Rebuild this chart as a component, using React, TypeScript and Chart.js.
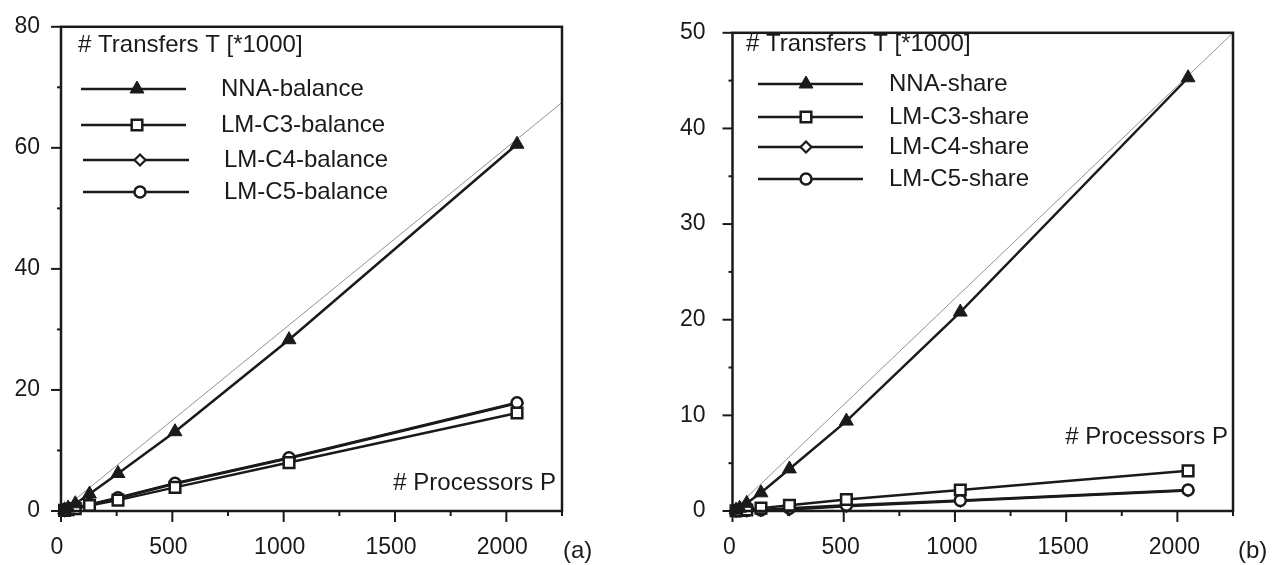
import React, { useEffect, useRef } from 'react';
import { Chart, registerables } from 'chart.js';

Chart.register(...registerables);

// ---------- data ----------
const processors = [16, 32, 64, 128, 256, 512, 1024, 2048];

const nnaBalance = [0.2, 0.5, 1.2, 2.8, 6.2, 13.1, 28.3, 60.6];
const c3Balance = [0.1, 0.2, 0.4, 0.9, 1.8, 3.9, 8.0, 16.2];
const c4Balance = [0.1, 0.2, 0.5, 1.0, 2.1, 4.5, 8.7, 17.8];
const c5Balance = [0.1, 0.2, 0.5, 1.1, 2.2, 4.6, 8.8, 17.9];

const nnaShare = [0.1, 0.3, 0.8, 1.9, 4.4, 9.4, 20.8, 45.3];
const c3Share = [0.02, 0.05, 0.1, 0.3, 0.6, 1.2, 2.2, 4.2];
const c4Share = [0.01, 0.02, 0.04, 0.08, 0.15, 0.5, 1.05, 2.15];
const c5Share = [0.01, 0.02, 0.05, 0.1, 0.3, 0.6, 1.1, 2.2];

const idealX = [0, 2250];
const idealBalance = [0, 67.5];
const idealShare = [0, 50];

const balanceNames = ['NNA-balance', 'LM-C3-balance', 'LM-C4-balance', 'LM-C5-balance'];
const shareNames = ['NNA-share', 'LM-C3-share', 'LM-C4-share', 'LM-C5-share'];

const xTickLabels = [0, 500, 1000, 1500, 2000];
const balanceYTickLabels = [0, 20, 40, 60, 80];
const shareYTickLabels = [0, 10, 20, 30, 40, 50];

const yTitle = '# Transfers T [*1000]';
const xTitle = '# Processors P';

// ---------- styling ----------
const H = 565;
const INK = '#1a1a1a';
const FONT = '"Liberation Sans", Arial, Helvetica, sans-serif';
const markerStyles = ['triangle', 'rect', 'rectRot', 'circle'];
const markerRadius = [8, 7.5, 5.5, 5.5];
const markerFill = [INK, '#fff', '#fff', '#fff'];
const markerBorder = [1, 2.5, 2.2, 2.5];
const drawOrder = [0, 1, 3, 2];

type Row = { y: number; x1: number; x2: number; mx: number; tx: number };
type Spec = {
  left: number;
  width: number;
  area: { left: number; top: number; right: number; bottom: number };
  yMax: number;
  yStep: number;
  yLabels: number[];
  yPad: number;
  xLabelOffset: number;
  series: number[][];
  names: string[];
  ideal: number[];
  titlePos: { x: number; y: number };
  rows: Row[];
  procPos: { x: number; y: number };
  tag: string;
  tagPos: { x: number; y: number };
};

const leftSpec: Spec = {
  left: 0,
  width: 640,
  area: { left: 61, top: 22, right: 562, bottom: 511 },
  yMax: 80,
  yStep: 10,
  yLabels: balanceYTickLabels,
  yPad: 13,
  xLabelOffset: -4,
  series: [nnaBalance, c3Balance, c4Balance, c5Balance],
  names: balanceNames,
  ideal: idealBalance,
  titlePos: { x: 78, y: 45 },
  rows: [
    { y: 89, x1: 81, x2: 186, mx: 137, tx: 221 },
    { y: 125, x1: 81, x2: 186, mx: 137, tx: 221 },
    { y: 160, x1: 83, x2: 189, mx: 140, tx: 224 },
    { y: 192, x1: 83, x2: 189, mx: 140, tx: 224 },
  ],
  procPos: { x: 556, y: 483 },
  tag: '(a)',
  tagPos: { x: 563, y: 551 },
};

const rightSpec: Spec = {
  left: 640,
  width: 635,
  area: { left: 92.5, top: 18, right: 593, bottom: 511 },
  yMax: 50,
  yStep: 5,
  yLabels: shareYTickLabels,
  yPad: 19,
  xLabelOffset: -3,
  series: [nnaShare, c3Share, c4Share, c5Share],
  names: shareNames,
  ideal: idealShare,
  titlePos: { x: 106, y: 44 },
  rows: [
    { y: 84, x1: 118, x2: 223, mx: 166, tx: 249 },
    { y: 117, x1: 118, x2: 223, mx: 166, tx: 249 },
    { y: 147, x1: 118, x2: 223, mx: 166, tx: 249 },
    { y: 179, x1: 118, x2: 223, mx: 166, tx: 249 },
  ],
  procPos: { x: 588, y: 437 },
  tag: '(b)',
  tagPos: { x: 598, y: 551 },
};

function drawMarker(ctx: CanvasRenderingContext2D, idx: number, x: number, y: number) {
  const r = markerRadius[idx];
  ctx.save();
  ctx.fillStyle = markerFill[idx];
  ctx.strokeStyle = INK;
  ctx.lineWidth = markerBorder[idx];
  ctx.beginPath();
  const s = markerStyles[idx];
  if (s === 'triangle') {
    for (let k = 0; k < 3; k++) {
      const a = (k * 2 * Math.PI) / 3;
      const px = x + Math.sin(a) * r;
      const py = y - Math.cos(a) * r;
      if (k === 0) ctx.moveTo(px, py);
      else ctx.lineTo(px, py);
    }
    ctx.closePath();
  } else if (s === 'rect') {
    const h = r * Math.SQRT1_2;
    ctx.rect(x - h, y - h, 2 * h, 2 * h);
  } else if (s === 'rectRot') {
    ctx.moveTo(x - r, y);
    ctx.lineTo(x, y - r);
    ctx.lineTo(x + r, y);
    ctx.lineTo(x, y + r);
    ctx.closePath();
  } else {
    ctx.arc(x, y, r, 0, Math.PI * 2);
  }
  ctx.fill();
  ctx.stroke();
  ctx.restore();
}

const decorPlugin = {
  id: 'decor',
  afterDraw(chart: any, _args: any, opts: any) {
    const spec: Spec = opts.spec;
    const { ctx, chartArea: a, scales } = chart;
    ctx.save();
    // frame
    ctx.strokeStyle = INK;
    ctx.lineWidth = 2.5;
    ctx.strokeRect(a.left, a.top, a.right - a.left, a.bottom - a.top);
    // x ticks
    ctx.lineWidth = 2;
    scales.x.ticks.forEach((t: any) => {
      const px = scales.x.getPixelForValue(t.value);
      const len = xTickLabels.includes(t.value) ? 11 : 5;
      ctx.beginPath();
      ctx.moveTo(px, a.bottom);
      ctx.lineTo(px, a.bottom + len);
      ctx.stroke();
    });
    // y ticks
    scales.y.ticks.forEach((t: any) => {
      const py = scales.y.getPixelForValue(t.value);
      const len = spec.yLabels.includes(t.value) ? 10 : 4;
      ctx.beginPath();
      ctx.moveTo(a.left, py);
      ctx.lineTo(a.left - len, py);
      ctx.stroke();
    });
    // texts and legend
    ctx.fillStyle = INK;
    ctx.font = `24px ${FONT}`;
    ctx.textBaseline = 'middle';
    ctx.textAlign = 'left';
    ctx.fillText(yTitle, spec.titlePos.x, spec.titlePos.y);
    spec.rows.forEach((r, i) => {
      ctx.strokeStyle = INK;
      ctx.lineWidth = 2.5;
      ctx.beginPath();
      ctx.moveTo(r.x1, r.y);
      ctx.lineTo(r.x2, r.y);
      ctx.stroke();
      drawMarker(ctx, i, r.mx, r.y);
      ctx.fillStyle = INK;
      ctx.fillText(spec.names[i], r.tx, r.y);
    });
    ctx.textAlign = 'right';
    ctx.fillText(xTitle, spec.procPos.x, spec.procPos.y);
    ctx.textAlign = 'left';
    ctx.fillText(spec.tag, spec.tagPos.x, spec.tagPos.y);
    ctx.restore();
  },
};

function Panel({ spec }: { spec: Spec }) {
  const ref = useRef<HTMLCanvasElement>(null);
  useEffect(() => {
    const datasets: any[] = spec.series.map((vals, i) => ({
      label: spec.names[i],
      data: processors.map((p, j) => ({ x: p, y: vals[j] })),
      order: drawOrder[i],
      borderColor: INK,
      borderWidth: 2.5,
      pointStyle: markerStyles[i],
      pointRadius: markerRadius[i],
      pointBackgroundColor: markerFill[i],
      pointBorderColor: INK,
      pointBorderWidth: markerBorder[i],
      tension: 0,
      clip: false,
    }));
    datasets.push({
      label: 'ideal',
      data: idealX.map((x, j) => ({ x, y: spec.ideal[j] })),
      order: 4,
      borderColor: '#777',
      borderWidth: 0.8,
      pointRadius: 0,
      tension: 0,
    });
    const chart = new Chart(ref.current!, {
      type: 'line',
      data: { datasets },
      plugins: [decorPlugin as any],
      options: {
        responsive: false,
        animation: false,
        events: [],
        layout: {
          padding: { top: spec.area.top, right: spec.width - spec.area.right, left: 0, bottom: 0 },
        },
        plugins: {
          legend: { display: false },
          tooltip: { enabled: false },
          decor: { spec },
        } as any,
        scales: {
          x: {
            type: 'linear',
            min: 0,
            max: 2250,
            grid: { display: false },
            border: { display: false },
            ticks: {
              stepSize: 250,
              autoSkip: false,
              maxRotation: 0,
              padding: 15,
              labelOffset: spec.xLabelOffset,
              color: INK,
              font: { family: FONT, size: 23 },
              callback: (v: any) => (xTickLabels.includes(Number(v)) ? String(v) : ''),
            },
            afterFit: (s: any) => {
              s.height = H - spec.area.bottom;
            },
          },
          y: {
            type: 'linear',
            min: 0,
            max: spec.yMax,
            grid: { display: false },
            border: { display: false },
            ticks: {
              stepSize: spec.yStep,
              autoSkip: false,
              padding: spec.yPad,
              color: INK,
              font: { family: FONT, size: 23 },
              callback: (v: any) => (spec.yLabels.includes(Number(v)) ? String(v) : ''),
            },
            afterFit: (s: any) => {
              s.width = spec.area.left;
            },
          },
        },
      } as any,
    });
    return () => chart.destroy();
  }, [spec]);
  return (
    <canvas
      ref={ref}
      width={spec.width}
      height={H}
      style={{ position: 'absolute', left: spec.left, top: 0, width: spec.width, height: H }}
    />
  );
}

export default function App() {
  return (
    <div style={{ position: 'absolute', left: 0, top: 0, width: 1275, height: H, background: '#fff', overflow: 'hidden' }}>
      <Panel spec={leftSpec} />
      <Panel spec={rightSpec} />
    </div>
  );
}
